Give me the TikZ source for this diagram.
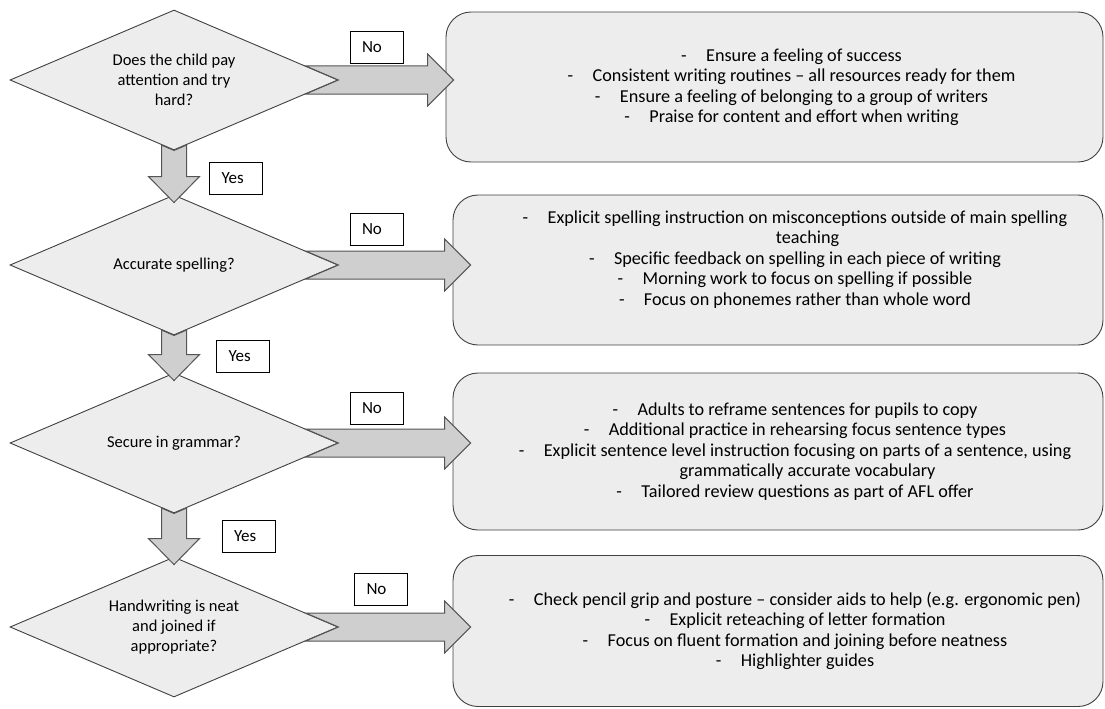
\documentclass[tikz,border=0pt]{standalone}
\usepackage{fontspec}
\setmainfont{Carlito}
\usetikzlibrary{shapes.geometric,calc}

\definecolor{lgray}{HTML}{EDEDED}
\definecolor{mgray}{HTML}{CFCFCF}
\definecolor{dgray}{HTML}{404040}
\definecolor{agray}{HTML}{555555}

% one bulleted line of an action box (dash, tab, text)
\newcommand\li[1]{\hspace*{34pt}\makebox[25pt][l]{-}#1}
% continuation of a wrapped bulleted line
\newcommand\lc[1]{\hspace*{59pt}#1}

% thick block arrow pointing down from one decision to the next
\newcommand\blockdown[2]{%
  \draw[blk] let \p1=(#1.south), \p2=(#2.north) in
    (\x1-12.5pt,\y1+5.34pt) -- (\x1-12.5pt,\y2+18pt) -- (\x1-25.5pt,\y2+18pt)
    -- (\x1,\y2-8pt) -- (\x1+25.5pt,\y2+18pt) -- (\x1+12.5pt,\y2+18pt)
    -- (\x1+12.5pt,\y1+5.34pt) -- (\x1,\y1) -- cycle;}
% thick block arrow pointing right from a decision to its action box
\newcommand\blockright[3]{%
  \draw[blk] let \p1=(#1.east), \p2=(#2.west) in
    (\x1-32.8pt,\y1+14pt) -- (\x2+#3-26pt,\y1+14pt) -- (\x2+#3-26pt,\y1+26pt)
    -- (\x2+#3,\y1) -- (\x2+#3-26pt,\y1-26pt) -- (\x2+#3-26pt,\y1-14pt)
    -- (\x1-32.8pt,\y1-14pt) -- (\x1,\y1) -- cycle;}

\begin{document}
\begin{tikzpicture}[x=1pt,y=-1pt,
  decision/.style={diamond, shape aspect=2.34, draw=dgray, fill=lgray,
    line width=0.9pt, minimum width=328pt, minimum height=140pt,
    inner sep=0pt, align=center, font=\fontsize{16.5}{20}\selectfont},
  action/.style={rectangle, rounded corners=25pt, draw=dgray, fill=lgray,
    line width=0.9pt, inner sep=0pt, align=center, minimum width=650pt,
    font=\fontsize{18.2}{20.5}\selectfont},
  tag/.style={draw=black, fill=white, line width=0.7pt, text width=29pt,
    inner xsep=12pt, inner ysep=0pt, minimum height=32pt, align=left,
    font=\fontsize{17}{20}\selectfont},
  blk/.style={draw=agray, fill=mgray, line width=1pt, line join=miter}]
\useasboundingbox (0,0) rectangle (1105,709);

% decisions
\node[decision] (d1) at (174,80)  {Does the child pay\\attention and try\\hard?};
\node[decision] (d2) at (174,265) {Accurate spelling?};
\node[decision] (d3) at (174,443) {Secure in grammar?};
\node[decision] (d4) at (174,627) {Handwriting is neat\\and joined if\\appropriate?};

% actions
\node[action, minimum width=657pt, minimum height=150pt] (b1) at (774.5,87) {%
  \li{Ensure a feeling of success}\\
  \li{Consistent writing routines – all resources ready for them}\\
  \li{Ensure a feeling of belonging to a group of writers}\\
  \li{Praise for content and effort when writing}};
\node[action, minimum height=150pt, text depth=24pt] (b2) at (778,270) {%
  \li{Explicit spelling instruction on misconceptions outside of main spelling}\\
  \lc{teaching}\\
  \li{Specific feedback on spelling in each piece of writing}\\
  \li{Morning work to focus on spelling if possible}\\
  \li{Focus on phonemes rather than whole word}};
\node[action, minimum height=157pt] (b3) at (778,451.5) {%
  \li{Adults to reframe sentences for pupils to copy}\\
  \li{Additional practice in rehearsing focus sentence types}\\
  \li{Explicit sentence level instruction focusing on parts of a sentence, using}\\
  \lc{grammatically accurate vocabulary}\\
  \li{Tailored review questions as part of AFL offer}};
\node[action, minimum height=151pt] (b4) at (778,631) {%
  \li{Check pencil grip and posture – consider aids to help (e.g. ergonomic pen)}\\
  \li{Explicit reteaching of letter formation}\\
  \li{Focus on fluent formation and joining before neatness}\\
  \li{Highlighter guides}};

% flow arrows
\blockdown{d1}{d2}
\blockdown{d2}{d3}
\blockdown{d3}{d4}
\blockright{d1}{b1}{8pt}
\blockright{d2}{b2}{18pt}
\blockright{d3}{b3}{18pt}
\blockright{d4}{b4}{18pt}

% answer tags
\node[tag] (no1) at (376.5,47)    {No};
\node[tag] (no2) at (376.5,229)   {No};
\node[tag] (no3) at (376.5,408)   {No};
\node[tag] (no4) at (381,589.5)   {No};
\node[tag] (yes1) at (236,178)    {Yes};
\node[tag] (yes2) at (243,356)    {Yes};
\node[tag] (yes3) at (248.5,536.5) {Yes};
\end{tikzpicture}
\end{document}
